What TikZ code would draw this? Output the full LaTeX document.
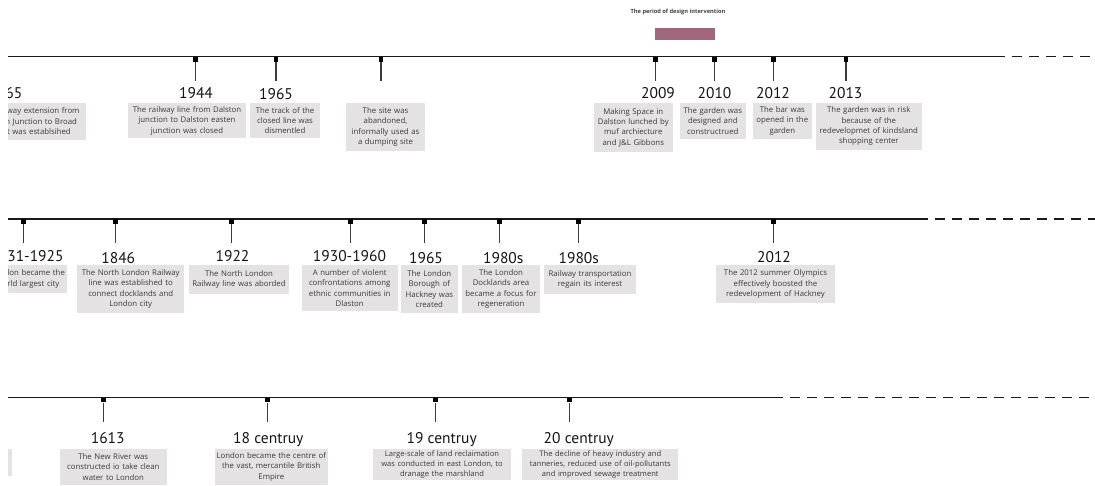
\documentclass[tikz,border=0pt]{standalone}
\usepackage{fontspec}
\setmainfont{Open Sans}
\newfontfamily\yearfont{PT Sans}
\definecolor{boxgrey}{HTML}{E4E2E2}
\definecolor{desctext}{HTML}{3A3A3A}
\definecolor{linecol}{HTML}{1A1A1A}
\definecolor{stemcol}{HTML}{3C3C3C}
\definecolor{pinkbar}{HTML}{A0677D}
\newcommand\tlev[4]{%
  \node[tickmark] (t#1) at (#2,#3) {};
  \coordinate (s#1) at (#2,#4);
  \draw[stem] (t#1.south) -- (s#1);
}
\tikzset{
  tl/.style={line width=1.4pt, draw=linecol},
  tldash/.style={tl, dash pattern=on 9.5pt off 7.5pt},
  tickmark/.style={fill=black, minimum width=4.6pt, minimum height=4.8pt, inner sep=0pt, anchor=north},
  stem/.style={line width=1.1pt, draw=stemcol},
  yearlbl/.style={font=\yearfont\fontsize{15.5}{16}\selectfont, anchor=base, inner sep=0pt, text=black!92},
  descbox/.style={fill=boxgrey, text=desctext, font=\fontsize{7.8}{10.3}\selectfont, align=center, inner xsep=1pt, inner ysep=0pt, anchor=north},
}
\begin{document}
\begin{tikzpicture}[x=1pt,y=-1pt]
\useasboundingbox (0,0) rectangle (1095,485);
\begin{scope}
\clip (8,-5) rectangle (1100,490);

% ---------- title and design period bar
\node[font=\bfseries\fontsize{5.7}{6}\selectfont, text=black!75, inner sep=0pt] (title) at (678,11.7) {The period of design intervention};
\node[fill=pinkbar, minimum width=60pt, minimum height=12.7pt, inner sep=0pt, anchor=north west] (period) at (655,27.3) {};

% ---------- row 1
\coordinate (r1a) at (8,56.7);
\coordinate (r1b) at (995,56.7);
\coordinate (r1c) at (1095,56.7);
\draw[tl] (r1a) -- (r1b);
\draw[tldash] (r1b) -- (r1c);

\tlev{a1}{5.5}{56.7}{80.7}
\tlev{a2}{195.7}{56.7}{80.7}
\tlev{a3}{276}{56.7}{80.7}
\tlev{a4}{381}{56.7}{80.7}
\tlev{a5}{655.7}{56.7}{80.7}
\tlev{a6}{714.3}{56.7}{80.7}
\tlev{a7}{773.3}{56.7}{80.7}
\tlev{a8}{846}{56.7}{80.7}

\node[yearlbl] (ya1) at (5.5,98.3) {1865};
\node[yearlbl] (ya2) at (196,98.3) {1944};
\node[yearlbl] (ya3) at (276,99.3) {1965};
\node[yearlbl] (ya5) at (658,98.3) {2009};
\node[yearlbl] (ya6) at (714.5,98.3) {2010};
\node[yearlbl] (ya7) at (773,98.3) {2012};
\node[yearlbl] (ya8) at (845.5,98.3) {2013};

\node[descbox, text width=110pt, minimum height=36.6pt] (ba1) at (29.5,102.7) {The railway extension from\\Dalston Junction to Broad\\Street was establsihed};
\node[descbox, text width=116pt, minimum height=35pt] (ba2) at (187,103) {The railway line from Dalston\\junction to Dalston easten\\junction was closed};
\node[descbox, text width=68pt, minimum height=35pt] (ba3) at (285,103) {The track of the\\closed line was\\dismentled};
\node[descbox, text width=77pt, minimum height=47.7pt] (ba4) at (385.5,103) {The site was\\abandoned,\\informally used as\\a dumping site};
\node[descbox, text width=76.7pt, minimum height=49pt] (ba5) at (633.3,102.7) {Making Space in\\Dalston lunched by\\muf archiecture\\and J\&L Gibbons};
\node[descbox, text width=63.7pt, minimum height=36pt] (ba6) at (712.8,102.7) {The garden was\\designed and\\constructrued};
\node[descbox, text width=56.7pt, minimum height=36pt] (ba7) at (782.3,102.7) {The bar was\\opened in the\\garden};
\node[descbox, text width=103.7pt, minimum height=47pt] (ba8) at (868.8,102.7) {The garden was in risk\\because of the\\redevelopmet of kindsland\\shopping center};

% ---------- row 2
\coordinate (r2a) at (8,219);
\coordinate (r2b) at (918.3,219);
\coordinate (r2c) at (1095,219);
\draw[tl] (r2a) -- (r2b);
\draw[tldash] (r2b) -- (r2c);

\tlev{b1}{23.3}{219}{242.7}
\tlev{b2}{115.7}{219}{242.7}
\tlev{b3}{231.3}{219}{242.7}
\tlev{b4}{350.7}{219}{242.7}
\tlev{b5}{424.3}{219}{242.7}
\tlev{b6}{499.3}{219}{242.7}
\tlev{b7}{578.3}{219}{242.7}
\tlev{b8}{773.3}{219}{242.7}

\node[yearlbl] (yb1) at (27,261.7) {1831-1925};
\node[yearlbl] (yb2) at (118.3,263) {1846};
\node[yearlbl] (yb3) at (232.5,261.7) {1922};
\node[yearlbl] (yb4) at (349.5,261.7) {1930-1960};
\node[yearlbl] (yb5) at (426,263.3) {1965};
\node[yearlbl] (yb6) at (503.3,263.3) {1980s};
\node[yearlbl] (yb7) at (578.8,263.3) {1980s};
\node[yearlbl] (yb8) at (774,262.3) {2012};

\node[descbox, text width=76pt, minimum height=27.7pt] (bb1) at (28,265) {London became the\\world largest city};
\node[descbox, text width=104.7pt, minimum height=47.7pt] (bb2) at (130.7,265) {The North London Railway\\line was established to\\connect docklands and\\London city};
\node[descbox, text width=98pt, minimum height=28.3pt] (bb3) at (239,265) {The North London\\Railway line was aborded};
\node[descbox, text width=94pt, minimum height=45.7pt] (bb4) at (349.7,265) {A number of violent\\confrontations among\\ethnic communities in\\Dlaston};
\node[descbox, text width=54.7pt, minimum height=47.7pt] (bb5) at (429.3,265) {The London\\Borough of\\Hackney was\\created};
\node[descbox, text width=76pt, minimum height=47.7pt] (bb6) at (501,265) {The London\\Docklands area\\became a focus for\\regeneration};
\node[descbox, text width=90pt, minimum height=28.3pt] (bb7) at (590,265) {Railway transportation\\regain its interest};
\node[descbox, text width=117pt, minimum height=37.7pt] (bb8) at (775.5,265) {The 2012 summer Olympics\\effectively boosted the\\redevelopment of Hackney};

% ---------- row 3
\coordinate (r3a) at (8,397.3);
\coordinate (r3b) at (773.3,397.3);
\coordinate (r3c) at (1095,397.3);
\draw[tl] (r3a) -- (r3b);
\draw[tldash] (r3b) -- (r3c);

\tlev{c1}{103.3}{397.3}{421.7}
\tlev{c2}{267.3}{397.3}{421.7}
\tlev{c3}{435.3}{397.3}{421.7}
\tlev{c4}{569.7}{397.3}{421.7}

\node[yearlbl] (yc1) at (107.7,443.3) {1613};
\node[yearlbl] (yc2) at (268.3,443.3) {18 centruy};
\node[yearlbl] (yc3) at (441.7,443.3) {19 centruy};
\node[yearlbl] (yc4) at (578.8,443.3) {20 centruy};

\node[fill=boxgrey, minimum width=60pt, minimum height=27pt, inner sep=0pt, anchor=north east] (bc0) at (12.3,449) {};
\node[descbox, text width=104.7pt, minimum height=35.3pt] (bc1) at (113.3,449) {The New River was\\constructed io take clean\\water to London};
\node[descbox, text width=110.7pt, minimum height=35.3pt] (bc2) at (271.3,449) {London became the centre of\\the vast, mercantile British\\Empire};
\node[descbox, text width=135.3pt, minimum height=31pt, font=\fontsize{7.6}{10}\selectfont] (bc3) at (442,449) {Large-scale of land reclaimation\\was conducted in east London, to\\dranage the marshland};
\node[descbox, text width=154pt, minimum height=31pt, font=\fontsize{7.6}{10}\selectfont] (bc4) at (600.3,449) {The decline of heavy industry and\\tanneries, reduced use of oil-pollutants\\and improved sewage treatment};
\end{scope}
\end{tikzpicture}
\end{document}
